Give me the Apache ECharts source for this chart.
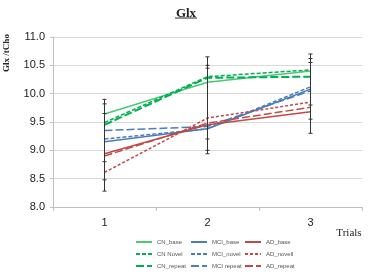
<!DOCTYPE html>
<html>
<head>
<meta charset="utf-8">
<script src="https://cdn.jsdelivr.net/npm/echarts@6/dist/echarts.min.js"></script>
<style>html,body{margin:0;padding:0;background:#fff}#main{width:372px;height:275px}</style>
</head>
<body>
<div id="main"></div>
<script>
// 数据
var trials = ['1', '2', '3'];
var cnBase = [9.64, 10.2, 10.4];
var cnNovel = [9.49, 10.3, 10.42];
var cnRepeat = [9.45, 10.28, 10.3];
var mciBase = [9.15, 9.38, 10.08];
var mciNovel = [9.2, 9.38, 10.12];
var mciRepeat = [9.35, 9.42, 10.05];
var adBase = [8.94, 9.45, 9.68];
var adNovel = [8.61, 9.57, 9.85];
var adRepeat = [8.9, 9.48, 9.76];
// 误差线 [trial, low, high]
var errBars = [
    [0, 8.28, 9.9], [0, 8.48, 9.82], [0, 8.8, 9.65],
    [1, 8.94, 10.65], [1, 9.0, 10.5], [1, 9.2, 10.45],
    [2, 9.3, 10.7], [2, 9.55, 10.62], [2, 9.8, 10.55]
];

var green = '#00b050', greenLight = '#4cc774', blue = '#4a7ebb', red = '#be4b48';

function line(name, data, color, type, width) {
    return {
        name: name, type: 'line', data: data, symbol: 'none',
        lineStyle: {color: color, type: type, width: width},
        itemStyle: {color: color}, z: 3
    };
}

var myChart = echarts.init(document.getElementById('main'));
var legendText = {fontSize: 6, color: '#555', fontFamily: 'Arial'};
function legendCol(left, names) {
    return {
        orient: 'vertical', left: left, top: 234, itemWidth: 16, itemHeight: 6, itemGap: 6,
        itemStyle: {opacity: 0}, textStyle: legendText, data: names
    };
}
var option = {
    animation: false,
    title: {
        text: 'Glx', left: 'center', top: 2,
        textStyle: {fontFamily: 'Liberation Serif', fontWeight: 'bold', fontSize: 13, color: '#222'}
    },
    graphic: [
        {type: 'line', shape: {x1: 175, y1: 18, x2: 197, y2: 18}, style: {stroke: '#222', lineWidth: 1}},
        {type: 'text', x: 7, y: 53, rotation: Math.PI / 2,
            style: {text: 'Glx /tCho', font: 'bold 9px "Liberation Serif"', fill: '#222', align: 'center', verticalAlign: 'middle'}},
        {type: 'text', x: 349, y: 233,
            style: {text: 'Trials', font: '11px "Liberation Serif"', fill: '#222', align: 'center', verticalAlign: 'middle'}}
    ],
    grid: {left: 53, right: 10, top: 37, bottom: 68},
    legend: [
        legendCol(130, ['CN_base', 'CN Novel', 'CN_repeat']),
        legendCol(185, ['MCI_base', 'MCI_novel', 'MCI repeat']),
        legendCol(239, ['AD_base', 'AD_novell', 'AD_repeat'])
    ],
    xAxis: {
        type: 'category', data: trials, boundaryGap: true,
        axisLine: {lineStyle: {color: '#bfbfbf'}},
        axisTick: {show: true, lineStyle: {color: '#bfbfbf'}, length: 4},
        axisLabel: {fontSize: 11, color: '#222', margin: 10, fontFamily: 'Liberation Sans'}
    },
    yAxis: {
        type: 'value', min: 8, max: 11, interval: 0.5,
        axisLine: {show: true, lineStyle: {color: '#bfbfbf'}},
        axisTick: {show: true, lineStyle: {color: '#bfbfbf'}, length: 3},
        axisLabel: {fontSize: 11, color: '#222', formatter: function (v) { return v.toFixed(1); }, fontFamily: 'Liberation Sans'},
        splitLine: {lineStyle: {color: '#d9d9d9'}}
    },
    series: [
        line('CN_base', cnBase, greenLight, 'solid', 1.5),
        line('CN Novel', cnNovel, green, [4, 2], 1.5),
        line('CN_repeat', cnRepeat, green, [8, 3], 2),
        line('MCI_base', mciBase, blue, 'solid', 1.5),
        line('MCI_novel', mciNovel, blue, [4, 2], 1.5),
        line('MCI repeat', mciRepeat, blue, [8, 3], 1.5),
        line('AD_base', adBase, red, 'solid', 1.5),
        line('AD_novell', adNovel, red, [3, 2], 1.5),
        line('AD_repeat', adRepeat, red, [8, 3], 1.5),
        {
            type: 'custom', data: errBars, z: 4, silent: true,
            renderItem: function (params, api) {
                var top = api.coord([api.value(0), api.value(2)]);
                var bot = api.coord([api.value(0), api.value(1)]);
                var style = {stroke: '#333', lineWidth: 1};
                return {
                    type: 'group', children: [
                        {type: 'line', shape: {x1: top[0], y1: top[1], x2: bot[0], y2: bot[1]}, style: style},
                        {type: 'line', shape: {x1: top[0] - 2, y1: top[1], x2: top[0] + 2, y2: top[1]}, style: style},
                        {type: 'line', shape: {x1: bot[0] - 2, y1: bot[1], x2: bot[0] + 2, y2: bot[1]}, style: style}
                    ]
                };
            }
        }
    ]
};
myChart.setOption(option);
</script>
</body>
</html>
